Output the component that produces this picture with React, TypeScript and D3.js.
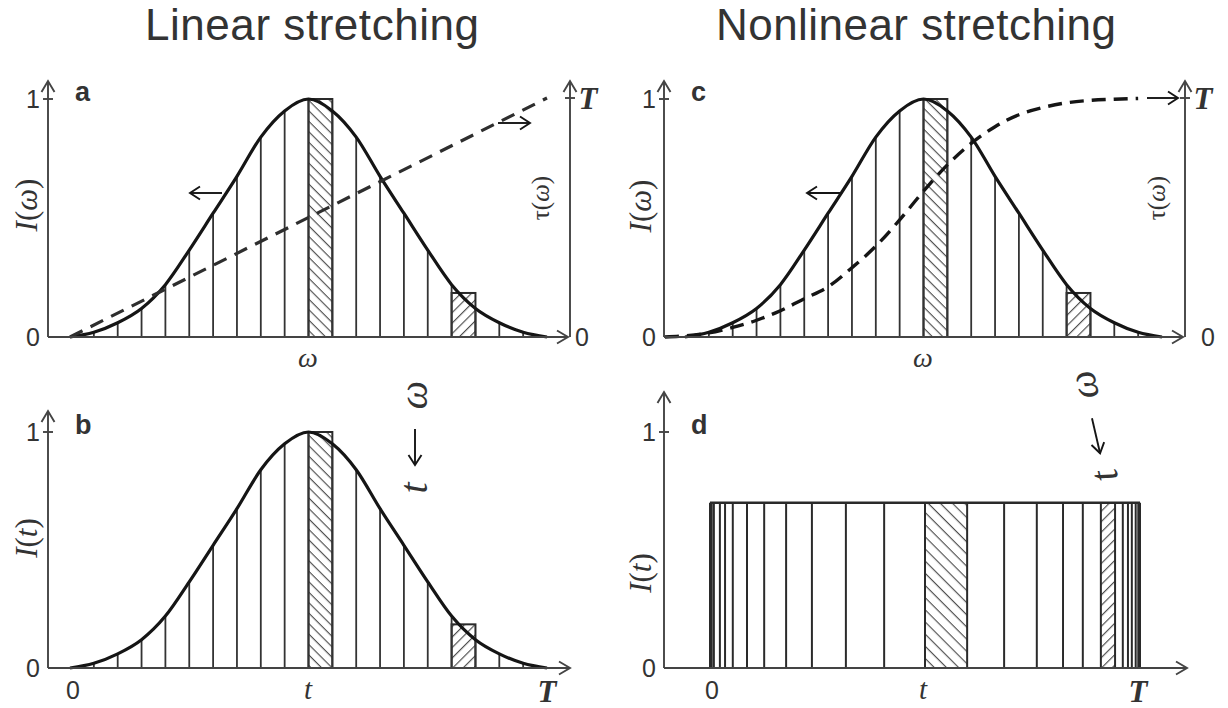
import React from "react";
import * as d3 from "d3";

// Spectral intensity I(ω) sampled at the 21 bin edges (ω in bin units 0..20)
const omegaEdges = [0, 1, 2, 3, 4, 5, 6, 7, 8, 9, 10, 11, 12, 13, 14, 15, 16, 17, 18, 19, 20];
const intensityAtEdges = [0, 0.02, 0.06, 0.12, 0.22, 0.365, 0.52, 0.675, 0.84, 0.95, 1, 0.95, 0.84, 0.675, 0.52, 0.365, 0.22, 0.12, 0.06, 0.02, 0];

// Highlighted spectral bins (start edge index) and their bar heights
const hatchedBins = [10, 16];
const hatchedLevels = [1.0, 0.185];

// Group delay τ(ω), as a fraction of T
const tauLinearOmega = [0, 20];
const tauLinearValues = [0, 1];
const tauNonlinearOmega = [-0.84, 0, 1, 2, 3, 4, 5, 6, 7, 8, 9, 10, 11, 12, 13, 14, 15, 16, 17, 18, 19];
const tauNonlinearValues = [0, 0.005, 0.017, 0.04, 0.07, 0.11, 0.16, 0.21, 0.29, 0.38, 0.49, 0.61, 0.72, 0.81, 0.88, 0.93, 0.96, 0.98, 0.99, 0.995, 0.998];

// Bin edges after nonlinear stretching (fraction of T) and the flattened intensity
const stretchedEdges = [0, 0.004, 0.009, 0.023, 0.035, 0.053, 0.086, 0.126, 0.177, 0.237, 0.316, 0.405, 0.5, 0.598, 0.684, 0.76, 0.821, 0.867, 0.909, 0.942, 0.96, 0.972, 0.981, 0.99, 0.996, 1];
const stretchedHatched = [12, 18];
const stretchedLevel = 0.7;

// Labels
const titles = ["Linear stretching", "Nonlinear stretching"];
const panelLetters = ["a", "b", "c", "d"];
const yTickLabels = ["0", "1"];
const tauTickLabels = ["0", "T"];
const timeTickLabels = ["0", "t", "T"];

const SANS = "'Liberation Sans', Arial, Helvetica, sans-serif";
const SERIF = "'Liberation Serif', 'Times New Roman', serif";
const INK = "#151515";
const AXIS = "#444";
const TEXT = "#333";

function Chevron({ x, y, angle, size = 11, spread = 6.5, color = AXIS, width = 1.9 }: any) {
  return (
    <path
      d={`M${-size},${-spread} L0,0 L${-size},${spread}`}
      transform={`translate(${x},${y}) rotate(${angle})`}
      fill="none"
      stroke={color}
      strokeWidth={width}
      strokeLinejoin="miter"
    />
  );
}

function SmallArrow({ x1, x2, y, dir }: any) {
  const tip = dir < 0 ? x1 : x2;
  return (
    <g>
      <line x1={x1} y1={y} x2={x2} y2={y} stroke={INK} strokeWidth={1.9} />
      <Chevron x={tip} y={y} angle={dir < 0 ? 180 : 0} size={10} spread={6.5} color={INK} />
    </g>
  );
}

function LeftAxis({ axisX, y, arrowTop, xEnd, labelIdx, ylabel, labelCenterY, labelX }: any) {
  const y0 = y(0);
  const y1 = y(1);
  return (
    <g>
      <line x1={axisX} y1={y0} x2={axisX} y2={arrowTop} stroke={AXIS} strokeWidth={1.9} />
      <Chevron x={axisX} y={arrowTop} angle={-90} />
      <line x1={axisX} y1={y0} x2={xEnd} y2={y0} stroke={AXIS} strokeWidth={1.9} />
      <Chevron x={xEnd} y={y0} angle={0} />
      <line x1={axisX - 5} y1={y1} x2={axisX + 5} y2={y1} stroke={AXIS} strokeWidth={1.9} />
      <text x={axisX - 8} y={y0} dy="0.36em" textAnchor="end" fontFamily={SANS} fontSize={25} fill={TEXT}>
        {yTickLabels[0]}
      </text>
      <text x={axisX - 8} y={y1} dy="0.36em" textAnchor="end" fontFamily={SANS} fontSize={25} fill={TEXT}>
        {yTickLabels[1]}
      </text>
      <text
        transform={`translate(${labelX},${labelCenterY}) rotate(-90)`}
        dy="0.33em"
        textAnchor="middle"
        fontFamily={SERIF}
        fontSize={31}
        fill={TEXT}
      >
        <tspan fontStyle="italic">I</tspan>
        <tspan>(</tspan>
        <tspan fontStyle="italic">{ylabel}</tspan>
        <tspan>)</tspan>
      </text>
      <text x={axisX + 27} y={y1 + 2} fontFamily={SANS} fontWeight="bold" fontSize={27} fill={TEXT}>
        {panelLetters[labelIdx]}
      </text>
    </g>
  );
}

function GaussianBins({ x, y }: any) {
  const line = d3
    .line<number>()
    .x((_, i) => x(omegaEdges[i]))
    .y((d) => y(d))
    .curve(d3.curveMonotoneX);
  const y0 = y(0);
  return (
    <g>
      {hatchedBins.map((b, i) => (
        <rect
          key={`h${b}`}
          x={x(b)}
          y={y(hatchedLevels[i])}
          width={x(b + 1) - x(b)}
          height={y0 - y(hatchedLevels[i])}
          fill={`url(#${i === 0 ? "hatchBack" : "hatchFwd"})`}
          stroke="#2a2a2a"
          strokeWidth={2}
        />
      ))}
      {omegaEdges.map((w, i) =>
        intensityAtEdges[i] > 0.005 ? (
          <line
            key={`v${w}`}
            x1={x(w)}
            x2={x(w)}
            y1={y0}
            y2={y(intensityAtEdges[i])}
            stroke="#333"
            strokeWidth={1.8}
          />
        ) : null
      )}
      <path d={line(intensityAtEdges) || ""} fill="none" stroke={INK} strokeWidth={3.2} />
    </g>
  );
}

function RightAxis({ axisX, yTau, arrowTop, omegaLabelX, omegaLabelY, tauLabelX, zeroX, tX }: any) {
  const y0 = yTau(0);
  const yT = yTau(1);
  return (
    <g>
      <line x1={axisX} y1={y0} x2={axisX} y2={arrowTop} stroke={AXIS} strokeWidth={1.9} />
      <Chevron x={axisX} y={arrowTop} angle={-90} />
      <line x1={axisX - 5} y1={yT} x2={axisX + 5} y2={yT} stroke={AXIS} strokeWidth={1.9} />
      <text x={zeroX} y={y0} dy="0.36em" textAnchor="middle" fontFamily={SANS} fontSize={25} fill={TEXT}>
        {tauTickLabels[0]}
      </text>
      <text
        x={tX}
        y={yT}
        dy="0.36em"
        textAnchor="middle"
        fontFamily={SERIF}
        fontStyle="italic"
        fontWeight="bold"
        fontSize={31}
        fill={TEXT}
      >
        {tauTickLabels[1]}
      </text>
      <text
        transform={`translate(${tauLabelX},198) rotate(-90)`}
        dy="0.33em"
        textAnchor="middle"
        fontFamily={SERIF}
        fontSize={25}
        fill={TEXT}
      >
        τ(<tspan fontStyle="italic">ω</tspan>)
      </text>
      <text
        x={omegaLabelX}
        y={omegaLabelY}
        dy="0.3em"
        textAnchor="middle"
        fontFamily={SERIF}
        fontStyle="italic"
        fontSize={28}
        fill={TEXT}
      >
        ω
      </text>
    </g>
  );
}

function TimeLabels({ xs, y }: any) {
  return (
    <g>
      <text x={xs[0]} y={y} dy="0.36em" textAnchor="middle" fontFamily={SANS} fontSize={25} fill={TEXT}>
        {timeTickLabels[0]}
      </text>
      <text x={xs[1]} y={y} dy="0.3em" textAnchor="middle" fontFamily={SERIF} fontStyle="italic" fontSize={29} fill={TEXT}>
        {timeTickLabels[1]}
      </text>
      <text
        x={xs[2]}
        y={y + 1}
        dy="0.36em"
        textAnchor="middle"
        fontFamily={SERIF}
        fontStyle="italic"
        fontWeight="bold"
        fontSize={31}
        fill={TEXT}
      >
        {timeTickLabels[2]}
      </text>
    </g>
  );
}

function MappingNote({ cx, cy, angle }: any) {
  // "t ← ω" written along a rotated baseline
  return (
    <g transform={`translate(${cx},${cy}) rotate(${angle})`}>
      <text x={-50} y={12} textAnchor="middle" fontFamily={SERIF} fontStyle="italic" fontSize={40} fill={TEXT}>
        t
      </text>
      <line x1={-27} y1={0} x2={9} y2={0} stroke={INK} strokeWidth={1.9} />
      <Chevron x={-27} y={0} angle={180} size={10} spread={6.5} color={INK} />
      <text x={43} y={12} textAnchor="middle" fontFamily={SERIF} fontStyle="italic" fontSize={40} fill={TEXT}>
        ω
      </text>
    </g>
  );
}

export default function App() {
  // Panels a / b share the ω (or t) scale; panels c / d sit 615 px to the right
  const xLeft = d3.scaleLinear().domain([0, 20]).range([70, 547]);
  const xRight = d3.scaleLinear().domain([0, 20]).range([685, 1162]);
  const yTop = d3.scaleLinear().domain([0, 1]).range([337, 99]);
  const yBottom = d3.scaleLinear().domain([0, 1]).range([668, 432]);
  const tauTop = d3.scaleLinear().domain([0, 1]).range([337, 98]);
  const tStretched = d3.scaleLinear().domain([0, 1]).range([710, 1140]);

  const tauLinearLine = d3
    .line<number>()
    .x((_, i) => xLeft(tauLinearOmega[i]))
    .y((d) => tauTop(d));
  const tauNonlinearLine = d3
    .line<number>()
    .x((_, i) => xRight(tauNonlinearOmega[i]))
    .y((d) => tauTop(d))
    .curve(d3.curveMonotoneX);

  const y0d = yBottom(0);
  const yLd = yBottom(stretchedLevel);

  return (
    <svg
      width={1228}
      height={708}
      viewBox="0 0 1228 708"
      style={{ position: "absolute", left: 0, top: 0, background: "#fff" }}
    >
      <defs>
        <pattern id="hatchBack" width="8" height="7.4" patternUnits="userSpaceOnUse" patternTransform="rotate(45)">
          <line x1="-1" y1="0.6" x2="9" y2="0.6" stroke="#444" strokeWidth="1.1" />
        </pattern>
        <pattern id="hatchFwd" width="8" height="7.4" patternUnits="userSpaceOnUse" patternTransform="rotate(-45)">
          <line x1="-1" y1="0.6" x2="9" y2="0.6" stroke="#444" strokeWidth="1.1" />
        </pattern>
        <pattern id="hatchBackWide" width="8" height="8.6" patternUnits="userSpaceOnUse" patternTransform="rotate(45)">
          <line x1="-1" y1="0.6" x2="9" y2="0.6" stroke="#444" strokeWidth="1.1" />
        </pattern>
        <pattern id="hatchFwdWide" width="8" height="7.4" patternUnits="userSpaceOnUse" patternTransform="rotate(-45)">
          <line x1="-1" y1="0.6" x2="9" y2="0.6" stroke="#444" strokeWidth="1.1" />
        </pattern>
      </defs>

      {/* Column titles */}
      <text x={312} y={40} textAnchor="middle" fontFamily={SANS} fontSize={44} textLength={334} lengthAdjust="spacing" fill={TEXT}>
        {titles[0]}
      </text>
      <text x={916} y={40} textAnchor="middle" fontFamily={SANS} fontSize={44} textLength={400} lengthAdjust="spacing" fill={TEXT}>
        {titles[1]}
      </text>

      {/* Panel a: spectrum with linear group delay */}
      <GaussianBins x={xLeft} y={yTop} />
      <path d={tauLinearLine(tauLinearValues) || ""} fill="none" stroke="#2e2e2e" strokeWidth={3.2} strokeDasharray="14 9" />
      <SmallArrow x1={190} x2={222} y={193} dir={-1} />
      <SmallArrow x1={498} x2={530} y={123} dir={1} />
      <LeftAxis axisX={48} y={yTop} arrowTop={81} xEnd={568} labelIdx={0} ylabel="ω" labelCenterY={205} labelX={27} />
      <RightAxis axisX={570} yTau={tauTop} arrowTop={81} omegaLabelX={308} omegaLabelY={359} tauLabelX={541} zeroX={582} tX={588} />

      {/* Panel b: linearly stretched waveform */}
      <GaussianBins x={xLeft} y={yBottom} />
      <LeftAxis axisX={48} y={yBottom} arrowTop={411} xEnd={570} labelIdx={1} ylabel="t" labelCenterY={538} labelX={27} />
      <TimeLabels xs={[73, 308, 547]} y={690} />
      <MappingNote cx={415} cy={438} angle={-90} />

      {/* Panel c: spectrum with nonlinear group delay */}
      <GaussianBins x={xRight} y={yTop} />
      <path
        d={tauNonlinearLine(tauNonlinearValues) || ""}
        fill="none"
        stroke={INK}
        strokeWidth={3.4}
        strokeDasharray="14 8"
      />
      <line x1={1147} y1={tauTop(1)} x2={1178} y2={tauTop(1)} stroke={INK} strokeWidth={1.9} />
      <Chevron x={1178} y={tauTop(1)} angle={0} size={10} spread={6.5} color={INK} />
      <SmallArrow x1={807} x2={840} y={193} dir={-1} />
      <LeftAxis axisX={664} y={yTop} arrowTop={81} xEnd={1183} labelIdx={2} ylabel="ω" labelCenterY={206} labelX={641} />
      <RightAxis axisX={1185} yTau={tauTop} arrowTop={81} omegaLabelX={923} omegaLabelY={359} tauLabelX={1157} zeroX={1208} tX={1203} />

      {/* Panel d: nonlinearly stretched, flattened waveform */}
      <g>
        {stretchedHatched.map((k, i) => (
          <rect
            key={`sh${k}`}
            x={tStretched(stretchedEdges[k])}
            y={yLd}
            width={tStretched(stretchedEdges[k + 1]) - tStretched(stretchedEdges[k])}
            height={y0d - yLd}
            fill={`url(#${i === 0 ? "hatchBackWide" : "hatchFwdWide"})`}
          />
        ))}
        {stretchedEdges.map((e, i) => (
          <line
            key={`se${i}`}
            x1={tStretched(e)}
            x2={tStretched(e)}
            y1={y0d}
            y2={yLd}
            stroke="#2a2a2a"
            strokeWidth={2}
          />
        ))}
        <line x1={tStretched(0)} x2={tStretched(1)} y1={yLd} y2={yLd} stroke="#2a2a2a" strokeWidth={2.4} />
      </g>
      <LeftAxis axisX={664} y={yBottom} arrowTop={392} xEnd={1187} labelIdx={3} ylabel="t" labelCenterY={573} labelX={641} />
      <TimeLabels xs={[712, 923, 1138]} y={690} />
      <MappingNote cx={1094} cy={427} angle={-103} />
    </svg>
  );
}
